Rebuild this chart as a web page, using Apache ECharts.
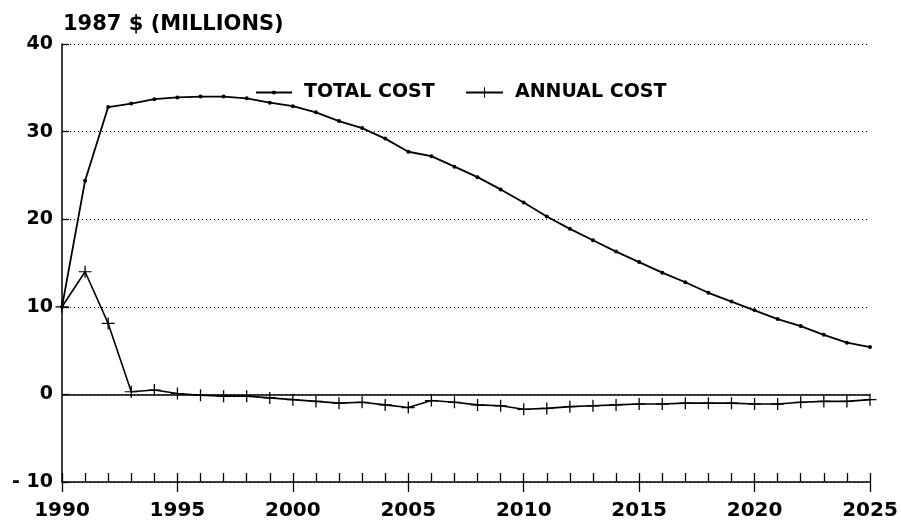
<!DOCTYPE html>
<html>
<head>
<meta charset="utf-8">
<script src="https://cdn.jsdelivr.net/npm/echarts@6/dist/echarts.min.js"></script>
<style>html,body{margin:0;padding:0;background:#fff}#c{width:901px;height:526px}</style>
</head>
<body>
<div id="c"></div>
<script>
var years = [1990,1991,1992,1993,1994,1995,1996,1997,1998,1999,2000,2001,2002,2003,2004,2005,2006,2007,2008,2009,2010,2011,2012,2013,2014,2015,2016,2017,2018,2019,2020,2021,2022,2023,2024,2025];
var totalCost = [10.0,24.4,32.8,33.2,33.7,33.9,34.0,34.0,33.8,33.3,32.9,32.2,31.2,30.4,29.2,27.7,27.2,26.0,24.8,23.4,21.9,20.3,18.9,17.6,16.3,15.1,13.9,12.8,11.6,10.6,9.6,8.6,7.8,6.8,5.9,5.4];
var annualCost = [10.0,14.0,8.1,0.3,0.5,0.1,-0.1,-0.2,-0.2,-0.4,-0.6,-0.8,-1.0,-0.9,-1.2,-1.5,-0.7,-0.9,-1.2,-1.3,-1.7,-1.6,-1.4,-1.3,-1.2,-1.1,-1.1,-1.0,-1.0,-1.0,-1.1,-1.1,-0.9,-0.8,-0.8,-0.6];
var yTicks = [-10,0,10,20,30,40];
var yTickLabels = ['- 10','0','10','20','30','40'];
var xTickLabels = ['1990','1995','2000','2005','2010','2015','2020','2025'];
var seriesNames = ['TOTAL COST','ANNUAL COST'];
var titleText = '1987 $ (MILLIONS)';

var plusPath = 'path://M9,0 H11 V9 H20 V11 H11 V20 H9 V11 H0 V9 H9 Z';
function pairs(v){ return years.map(function(y,i){ return [y, v[i]]; }); }

var legendText = {fontFamily:'DejaVu Sans',fontWeight:'bold',fontSize:19,color:'#000',padding:[0,0,0,7]};

var chart = echarts.init(document.getElementById('c'), null, {renderer:'canvas'});
chart.setOption({
  animation:false,
  backgroundColor:'#fff',
  title:{text:titleText,left:58,top:9,textStyle:{fontFamily:'DejaVu Sans',fontWeight:'bold',fontSize:21,color:'#000'}},
  legend:[
    {left:255, top:83, padding:0, itemWidth:36, itemHeight:5, data:[seriesNames[0]], textStyle:legendText},
    {left:465, top:83, padding:0, itemWidth:37, itemHeight:13, data:[seriesNames[1]], textStyle:legendText}
  ],
  grid:{left:62,right:31,top:44,bottom:44,containLabel:false},
  xAxis:[
    {type:'value',min:1990,max:2025,interval:5,position:'bottom',
     axisLine:{show:true,onZero:false,lineStyle:{color:'#000',width:1.5}},
     axisTick:{show:true,inside:false,length:10,lineStyle:{color:'#000',width:1.3}},
     axisLabel:{show:true,margin:19,color:'#000',fontFamily:'DejaVu Sans',fontWeight:'bold',fontSize:20,
       formatter:function(v){ var i=(v-1990)/5; return xTickLabels[i]!==undefined?xTickLabels[i]:''; }},
     splitLine:{show:false}},
    {type:'value',min:1990,max:2025,interval:1,position:'bottom',
     axisLine:{show:false,onZero:false},
     axisTick:{show:true,inside:true,length:9,lineStyle:{color:'#000',width:1.3}},
     axisLabel:{show:false},splitLine:{show:false}}
  ],
  yAxis:{type:'value',min:-10,max:40,interval:10,
    axisLine:{show:true,lineStyle:{color:'#000',width:1.5}},
    axisTick:{show:true,inside:true,length:7,lineStyle:{color:'#000',width:1.3}},
    axisLabel:{margin:9,color:'#000',fontFamily:'DejaVu Sans',fontWeight:'bold',fontSize:19,
      formatter:function(v){ var i=yTicks.indexOf(v); return i>=0?yTickLabels[i]:''; }},
    splitLine:{show:true,lineStyle:{type:[1,3],color:'#000',width:1}}
  },
  series:[
    {name:seriesNames[0],type:'line',xAxisIndex:0,data:pairs(totalCost),
     symbol:'circle',symbolSize:4,showSymbol:true,
     lineStyle:{color:'#000',width:1.8},itemStyle:{color:'#000'}},
    {name:seriesNames[1],type:'line',xAxisIndex:0,data:pairs(annualCost),
     symbol:plusPath,symbolSize:[13,12],showSymbol:true,
     lineStyle:{color:'#000',width:1.6},itemStyle:{color:'#000'},
     markLine:{silent:true,symbol:'none',label:{show:false},
       lineStyle:{type:'solid',color:'#000',width:1.5},data:[{yAxis:0}]}}
  ]
});
</script>
</body>
</html>
